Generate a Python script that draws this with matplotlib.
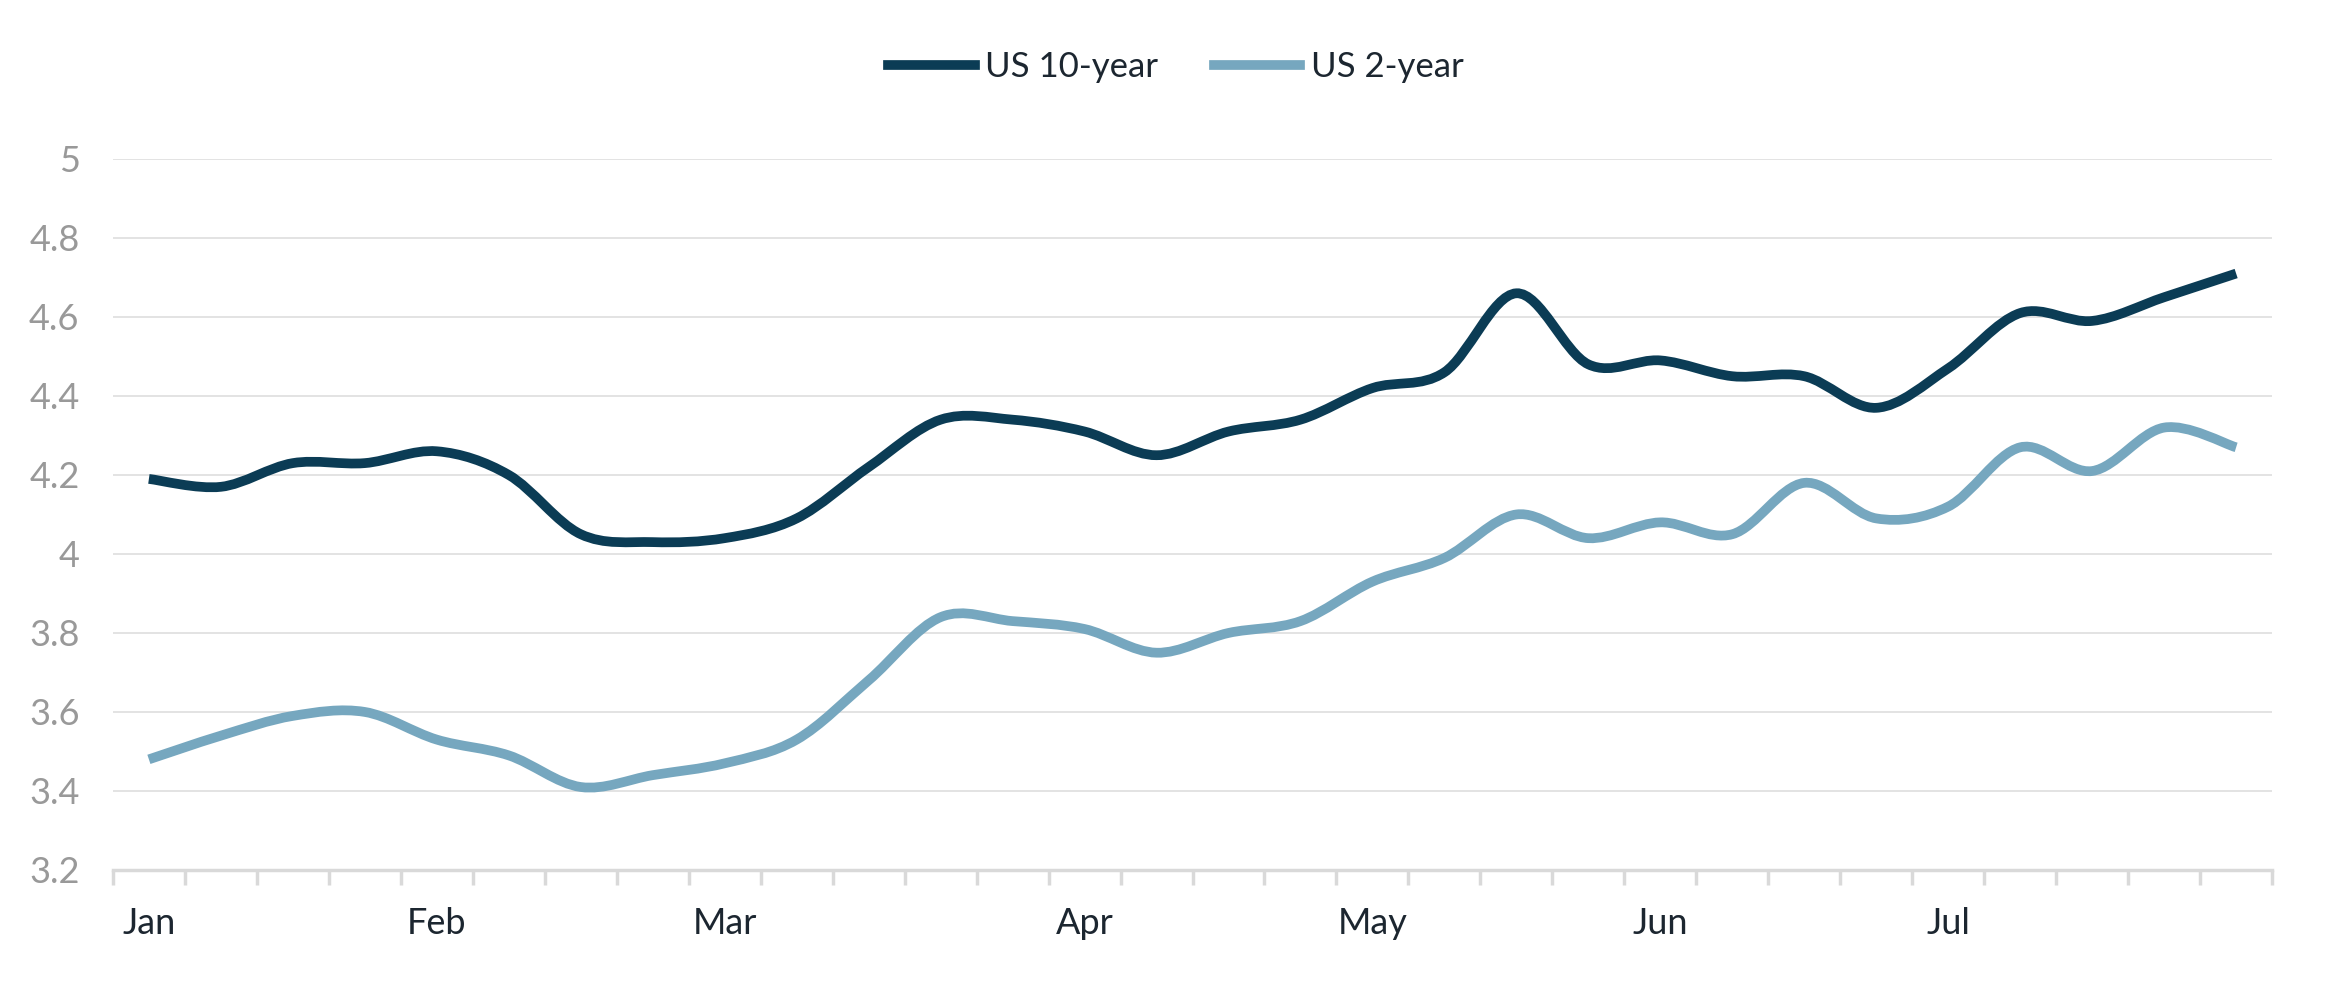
import matplotlib
matplotlib.use("Agg")
import matplotlib.pyplot as plt
from matplotlib.path import Path
from matplotlib.patches import PathPatch
from matplotlib.lines import Line2D

# weekly yields, Jan to end of July
month_labels = ["Jan", "Feb", "Mar", "Apr", "May", "Jun", "Jul"]
month_weeks = [0, 4, 8, 13, 17, 21, 25]
ten_year = [4.19, 4.17, 4.23, 4.23, 4.26, 4.20, 4.05, 4.03, 4.04, 4.09,
            4.22, 4.34, 4.34, 4.31, 4.25, 4.31, 4.34, 4.42, 4.46, 4.66,
            4.48, 4.49, 4.45, 4.45, 4.37, 4.47, 4.61, 4.59, 4.65, 4.71]
two_year = [3.48, 3.54, 3.59, 3.60, 3.53, 3.49, 3.41, 3.44, 3.47, 3.53,
            3.68, 3.84, 3.83, 3.81, 3.75, 3.80, 3.83, 3.93, 3.99, 4.10,
            4.04, 4.08, 4.05, 4.18, 4.09, 4.12, 4.27, 4.21, 4.32, 4.27]
series_names = ["US 10-year", "US 2-year"]
colors = ["#0b3c55", "#76a7bf"]

plt.rcParams['font.family'] = ['Lato', 'DejaVu Sans']


def smooth_path(ys):
    # Excel style smoothed line: Catmull-Rom segments as cubic Beziers
    xs = list(range(len(ys)))
    pts = list(zip(xs, ys))
    verts = [pts[0]]
    codes = [Path.MOVETO]
    n = len(pts)
    for i in range(n - 1):
        p0 = pts[max(i - 1, 0)]
        p1 = pts[i]
        p2 = pts[i + 1]
        p3 = pts[min(i + 2, n - 1)]
        c1 = (p1[0] + (p2[0] - p0[0]) / 6, p1[1] + (p2[1] - p0[1]) / 6)
        c2 = (p2[0] - (p3[0] - p1[0]) / 6, p2[1] - (p3[1] - p1[1]) / 6)
        verts += [c1, c2, p2]
        codes += [Path.CURVE4] * 3
    return Path(verts, codes)


fig = plt.figure(figsize=(23.28, 9.85), dpi=100)
ax = fig.add_axes([0.0485, 0.1168, 0.9275, 0.7218])

for ys, c in zip([ten_year, two_year], colors):
    ax.add_patch(PathPatch(smooth_path(ys), fill=False, edgecolor=c,
                           linewidth=7, capstyle='butt', zorder=3))

n = len(ten_year)
ax.set_xlim(-0.5, n - 0.5)
ax.set_ylim(3.2, 5.0)
ax.set_yticks([3.2, 3.4, 3.6, 3.8, 4.0, 4.2, 4.4, 4.6, 4.8, 5.0])
ax.set_yticklabels(["3.2", "3.4", "3.6", "3.8", "4", "4.2", "4.4", "4.6", "4.8", "5"])
ax.grid(axis='y', color='#e3e3e3', linewidth=1.4)
ax.set_axisbelow(True)

# tick marks between weeks, month names under their first week
ax.set_xticks([i - 0.5 for i in range(n + 1)])
ax.set_xticklabels([])
ax.set_xticks(month_weeks, minor=True)
ax.set_xticklabels(month_labels, minor=True)
ax.tick_params(axis='x', which='major', length=11, width=2.5, color='#d9d9d9',
               direction='out')
ax.tick_params(axis='x', which='minor', length=0, pad=27, labelsize=26,
               labelcolor='#1c2630')
ax.tick_params(axis='y', length=0, pad=24, labelsize=26, labelcolor='#999999')

for s in ['top', 'right', 'left']:
    ax.spines[s].set_visible(False)
ax.spines['bottom'].set_color('#d9d9d9')
ax.spines['bottom'].set_linewidth(2.5)

handles = [Line2D([], [], color=c, linewidth=7) for c in colors]
fig.legend(handles, series_names, loc='center', bbox_to_anchor=(0.505, 0.932),
           ncol=2, frameon=False, fontsize=25, handlelength=2.5,
           handletextpad=0.3, columnspacing=1.6, labelcolor='#1c2630')

fig.savefig("out.png", dpi=100, facecolor='white')
